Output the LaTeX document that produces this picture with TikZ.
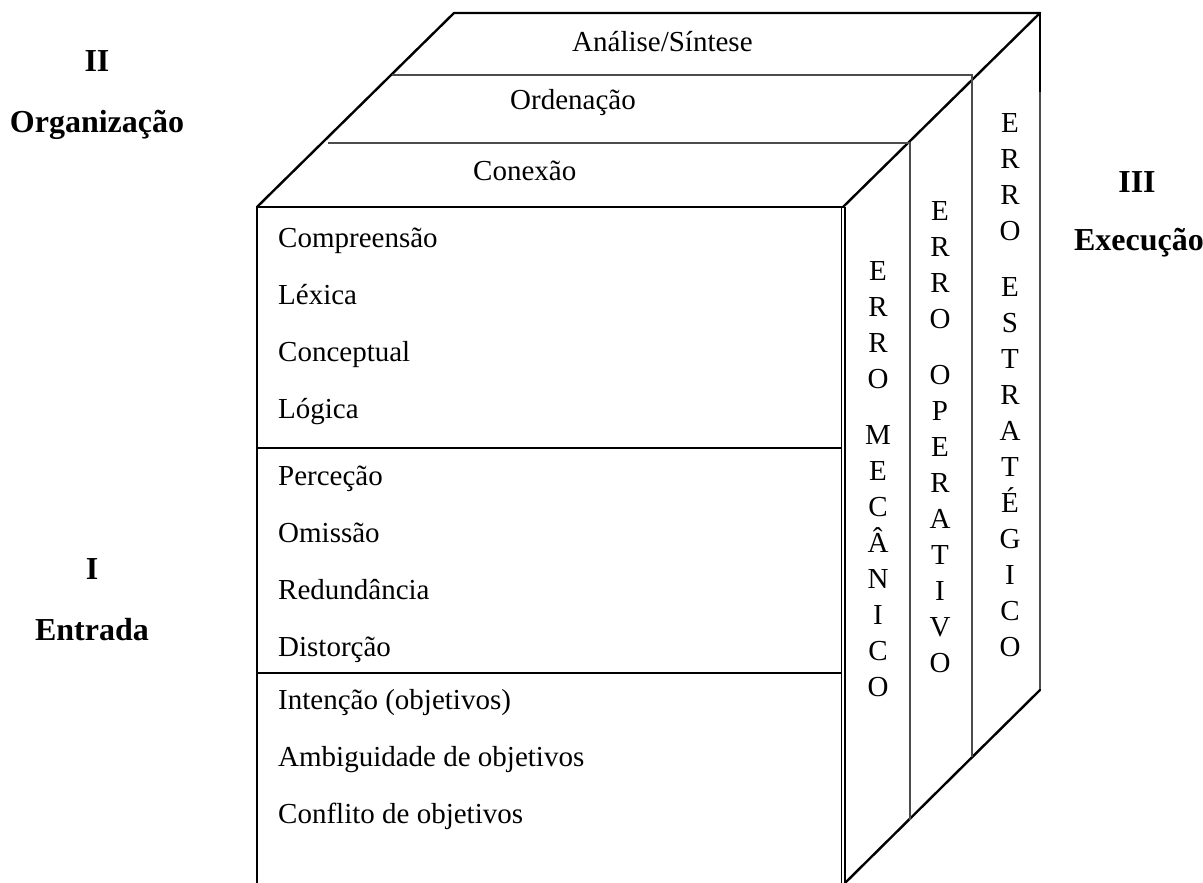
\documentclass[tikz,border=0pt]{standalone}
\usepackage{fontspec}
\setmainfont{Liberation Serif}
\usetikzlibrary{positioning}

\begin{document}
\begin{tikzpicture}[
  x=1pt, y=-1pt,
  font=\fontsize{29}{35}\selectfont,
  edge/.style={line width=2.4pt, line cap=round, line join=round},
  frontline/.style={line width=1.4pt},
  band/.style={line width=1.3pt, black!70},
  item/.style={anchor=base west, inner sep=0pt},
  lett/.style={anchor=base, inner sep=0pt},
  axis/.style={anchor=base, inner sep=0pt, font=\fontsize{32}{38}\selectfont\bfseries}
]
\useasboundingbox (0,0) rectangle (1203,883);

% Corners of the box.
\coordinate (tl) at (454,13);
\coordinate (tr) at (1040,13);
\coordinate (fl) at (257,207);
\coordinate (fr) at (843,207);
\coordinate (br) at (1040,690);
\coordinate (fb) at (845,883);
\coordinate (lb) at (257,883);

% Outline: top face, diagonals and edges.
\draw[edge] (fl) -- (tl) -- (tr) -- (fr);
\draw[edge] (tr) -- (1040,92);
\draw[band] (1040,92) -- (br);
\draw[edge] (br) -- (fb);
\draw[frontline] (fl) -- (lb);
\draw[frontline] (fl) -- (fr);

% Double line on the right edge of the front face.
\draw[line width=2.2pt] (845,207) -- (845,883);
\draw[line width=1pt] (841,207) -- (841,883);

% Layers of the top face, running down the right face.
\draw[band] (392,75) -- (972,75) -- (972,757);
\draw[band] (328,143) -- (910,143) -- (910,820);

% Groups on the front face.
\draw[frontline] (257,448) -- (841,448);
\draw[frontline] (257,673) -- (841,673);

% Top face labels.
\node[item] (analise) at (572,52) {Análise/Síntese};
\node[item] (ordena) at (510,110) {Ordenação};
\node[item] (conexao) at (473,180) {Conexão};

% Front face labels.
\foreach \t/\b [count=\k] in {Compreensão/247, Léxica/304, Conceptual/361,
    Lógica/418, Perceção/485, Omissão/542, Redundância/599, Distorção/656,
    Intenção (objetivos)/709, Ambiguidade de objetivos/766,
    Conflito de objetivos/823}
  \node[item] (it\k) at (278,\b) {\t};

% Right face columns, one letter per line.
\foreach \ch [count=\k from 0] in {E,R,R,O}
  \node[lett] (mec-a\k) at (878,280+36*\k) {\ch};
\foreach \ch [count=\k from 0] in {M,E,C,Â,N,I,C,O}
  \node[lett] (mec-b\k) at (878,444+36*\k) {\ch};

\foreach \ch [count=\k from 0] in {E,R,R,O}
  \node[lett] (ope-a\k) at (940,220+36*\k) {\ch};
\foreach \ch [count=\k from 0] in {O,P,E,R,A,T,I,V,O}
  \node[lett] (ope-b\k) at (940,384+36*\k) {\ch};

\foreach \ch [count=\k from 0] in {E,R,R,O}
  \node[lett] (est-a\k) at (1010,132+36*\k) {\ch};
\foreach \ch [count=\k from 0] in {E,S,T,R,A,T,É,G,I,C,O}
  \node[lett] (est-b\k) at (1010,296+36*\k) {\ch};

% Axis names.
\node[axis] (ii) at (97,72) {II};
\node[axis] (org) at (97,132) {Organização};
\node[axis] (i) at (92,579) {I};
\node[axis] (ent) at (92,640) {Entrada};
\node[axis] (iii) at (1137,192) {III};
\node[axis] (exe) at (1139,250) {Execução};
\end{tikzpicture}
\end{document}
